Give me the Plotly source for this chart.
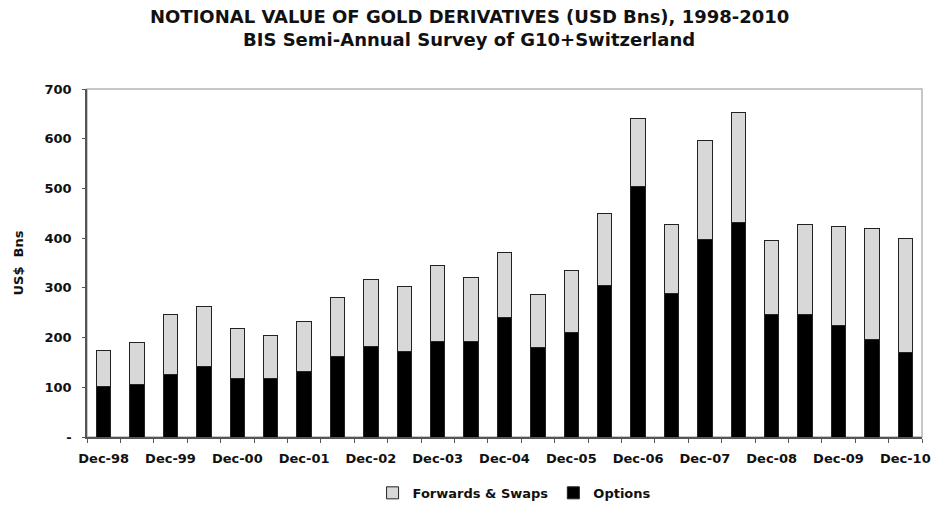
import plotly.graph_objects as go

periods = ["Dec-98", "Jun-99", "Dec-99", "Jun-00", "Dec-00", "Jun-01", "Dec-01", "Jun-02",
           "Dec-02", "Jun-03", "Dec-03", "Jun-04", "Dec-04", "Jun-05", "Dec-05", "Jun-06",
           "Dec-06", "Jun-07", "Dec-07", "Jun-08", "Dec-08", "Jun-09", "Dec-09", "Jun-10", "Dec-10"]
options = [101, 105, 125, 142, 118, 118, 131, 162, 182, 172, 192, 192, 240, 180, 210, 305,
           503, 289, 397, 432, 247, 247, 224, 197, 170]
forwards_swaps = [74, 86, 121, 121, 101, 87, 101, 118, 135, 131, 152, 129, 132, 107, 124, 145,
                  137, 138, 200, 220, 149, 180, 200, 223, 229]
tick_labels = [p if p.startswith("Dec") else "" for p in periods]
y_ticks = [0, 100, 200, 300, 400, 500, 600, 700]
y_tick_text = ["-", "100", "200", "300", "400", "500", "600", "700"]
title_line1 = "NOTIONAL VALUE OF GOLD DERIVATIVES (USD Bns), 1998-2010"
title_line2 = "BIS Semi-Annual Survey of G10+Switzerland"

FONT = "DejaVu Sans, Verdana, sans-serif"

fig = go.Figure()
fig.add_trace(go.Bar(x=periods, y=options, name="Options",
                     marker=dict(color="#000000", line=dict(color="#222222", width=1)),
                     legendrank=2))
fig.add_trace(go.Bar(x=periods, y=forwards_swaps, name="Forwards & Swaps",
                     marker=dict(color="#d8d8d8", line=dict(color="#222222", width=1)),
                     legendrank=1))

fig.update_layout(
    width=933, height=505,
    barmode="stack", bargap=0.57,
    plot_bgcolor="white", paper_bgcolor="white",
    margin=dict(l=87, r=11, t=89, b=68, autoexpand=False),
    font=dict(family=FONT, color="#111111", size=13),
    legend=dict(orientation="h", x=0.342, xanchor="left", yref="container", y=0.024,
                yanchor="middle", font=dict(family=FONT, size=13, weight="bold"),
                itemwidth=30, traceorder="normal"),
    showlegend=True,
)
fig.add_annotation(text=title_line1, xref="paper", yref="paper", x=0.458, y=1.207,
                   xanchor="center", yanchor="middle", showarrow=False,
                   font=dict(family=FONT, size=18, weight="bold", color="#111111"))
fig.add_annotation(text=title_line2, xref="paper", yref="paper", x=0.458, y=1.141,
                   xanchor="center", yanchor="middle", showarrow=False,
                   font=dict(family=FONT, size=18, weight="bold", color="#111111"))
fig.update_xaxes(
    type="category", tickmode="array", tickvals=periods, ticktext=tick_labels,
    tickson="boundaries", ticks="outside", ticklen=4, tickcolor="#555555",
    ticklabelstandoff=9,
    showline=True, linecolor="#555555", linewidth=1.5, showgrid=False, automargin=False,
    tickangle=0, tickfont=dict(family=FONT, size=13, weight="bold"),
)
fig.update_yaxes(
    range=[0, 700], tickmode="array", tickvals=y_ticks, ticktext=y_tick_text,
    ticks="outside", ticklen=3, tickcolor="#555555", ticklabelstandoff=8,
    showline=True, linecolor="#555555", linewidth=1.5, showgrid=False, zeroline=False,
    automargin=False, tickfont=dict(family=FONT, size=13, weight="bold"),
    title=dict(text="<b>US$  Bns</b>", standoff=18, font=dict(family=FONT, size=13)),
)
fig.add_shape(type="rect", xref="paper", yref="paper", x0=0, x1=1, y0=0, y1=1,
              line=dict(color="#b5b5b5", width=1.5), layer="below")

fig.write_html("out.html")
